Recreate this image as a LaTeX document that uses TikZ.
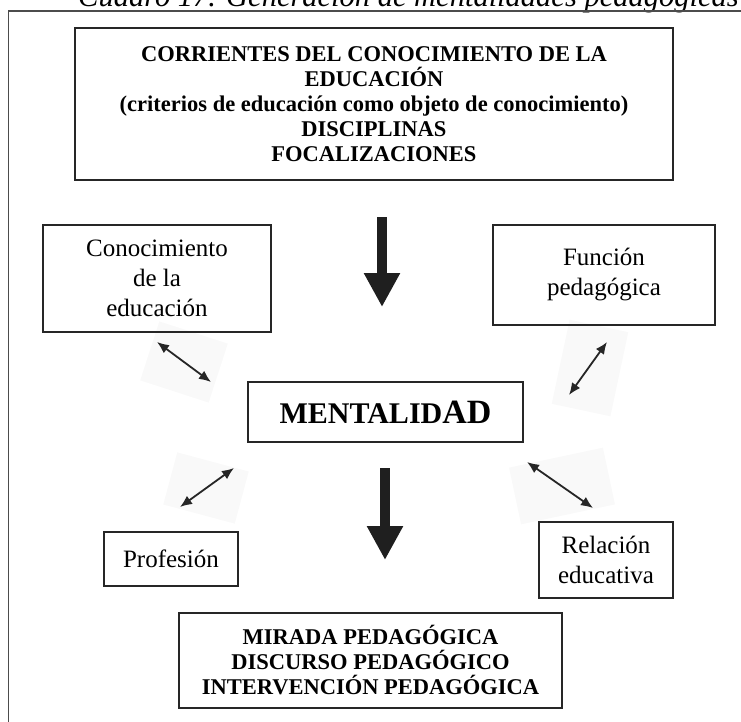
\documentclass[tikz,border=0pt]{standalone}
\usepackage{fontspec}
\setmainfont{Liberation Serif}
\usetikzlibrary{arrows.meta}

\tikzset{
  frameline/.style={draw=black!70, line width=1.3pt},
  heavybox/.style={draw=black!85, line width=2.2pt, inner sep=0pt, align=center,
    font=\fontsize{22.5}{25}\selectfont\bfseries},
  lightbox/.style={draw=black!85, line width=1.6pt, inner sep=0pt, align=center,
    font=\fontsize{25}{30}\selectfont},
  bigarrow/.style={draw=black!88, line width=10pt,
    -{Triangle[width=34pt,length=34pt]}},
  twoway/.style={draw=black!85, line width=1.8pt,
    {Latex[length=12pt,width=10pt]}-{Latex[length=12pt,width=10pt]}},
  haze/.style={fill=black!2.5, draw=none, inner sep=0pt}
}

\begin{document}
\begin{tikzpicture}[x=1pt, y=-1pt]
  \useasboundingbox (0,0) rectangle (741,722);
  \clip (0,0) rectangle (741,722);

  % caption, partly above the page edge
  \node[anchor=base west, inner sep=0pt, font=\fontsize{30.5}{30.5}\selectfont\itshape]
    (caption) at (78,7) {Cuadro 17. Generación de mentalidades pedagógicas};

  % outer frame (top and left edges)
  \draw[frameline] (8.5,730) -- (8.5,11) -- (750,11);

  % light patches behind the two-way arrows
  \node[haze, minimum width=72pt, minimum height=62pt, rotate=-18] (hz1) at (184,362) {};
  \node[haze, minimum width=60pt, minimum height=86pt, rotate=-12] (hz2) at (590,368) {};
  \node[haze, minimum width=74pt, minimum height=54pt, rotate=-15] (hz3) at (206,488) {};
  \node[haze, minimum width=96pt, minimum height=58pt, rotate=12] (hz4) at (562,486) {};

  % boxes
  \node[heavybox, minimum width=598pt, minimum height=152pt] (corrientes) at (374,104)
    {CORRIENTES DEL CONOCIMIENTO DE LA\\EDUCACIÓN\\(criterios de educación como objeto de conocimiento)\\DISCIPLINAS\\FOCALIZACIONES};

  \node[lightbox, minimum width=228pt, minimum height=107pt] (conoc) at (157,278.5)
    {Conocimiento\\de la\\educación};

  \node[lightbox, minimum width=222pt, minimum height=100pt] (funcion) at (604,275)
    {Función\\pedagógica};

  \node[draw=black!85, line width=1.6pt, inner sep=0pt,
        minimum width=275pt, minimum height=60pt] (mental) at (385.5,412)
    {\fontsize{30}{30}\selectfont\bfseries MENTALID{\fontsize{34}{34}\selectfont AD}};

  \node[lightbox, minimum width=134pt, minimum height=54pt] (profesion) at (171,559)
    {Profesión};

  \node[lightbox, minimum width=134pt, minimum height=76pt] (relacion) at (606,560)
    {Relación\\educativa};

  \node[heavybox, minimum width=383pt, minimum height=95pt] (mirada) at (370.5,660.5)
    {MIRADA PEDAGÓGICA\\DISCURSO PEDAGÓGICO\\INTERVENCIÓN PEDAGÓGICA};

  % arrow end points
  \coordinate (downA1) at (382,217);
  \coordinate (downA2) at (382,307);
  \coordinate (downB1) at (385,468);
  \coordinate (downB2) at (385,560);

  \coordinate (ne1) at (157,342);
  \coordinate (ne2) at (211,382);
  \coordinate (nw1) at (607,342);
  \coordinate (nw2) at (569,395);
  \coordinate (sw1) at (234,468);
  \coordinate (sw2) at (180,507);
  \coordinate (se1) at (527,462);
  \coordinate (se2) at (593,508);

  % main flow
  \draw[bigarrow] (downA1) -- (downA2);
  \draw[bigarrow] (downB1) -- (downB2);

  % two-way links
  \draw[twoway] (ne1) -- (ne2);
  \draw[twoway] (nw1) -- (nw2);
  \draw[twoway] (sw1) -- (sw2);
  \draw[twoway] (se1) -- (se2);
\end{tikzpicture}
\end{document}
